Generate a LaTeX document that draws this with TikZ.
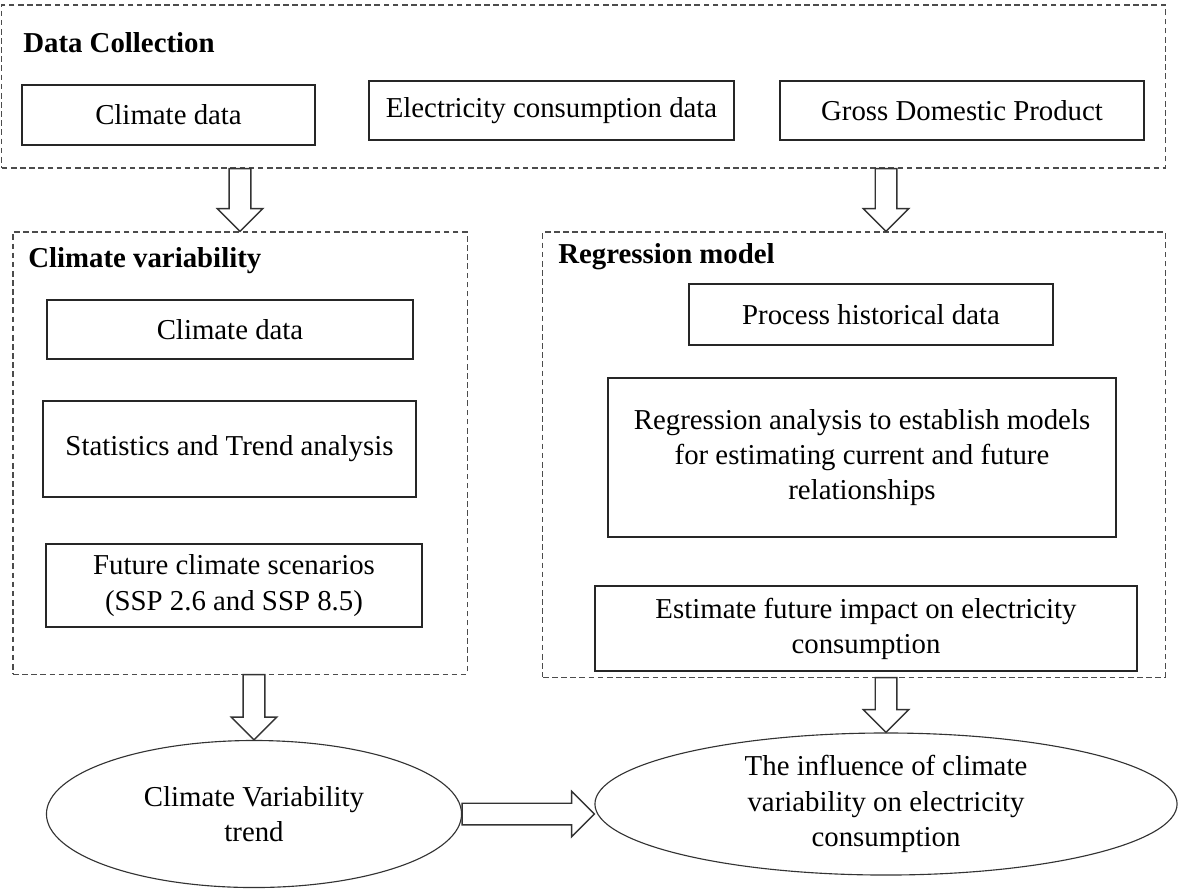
\documentclass[tikz,border=0pt]{standalone}
\usepackage{fontspec}
\setmainfont{Liberation Serif}
\usepackage{tikz}
\usetikzlibrary{positioning, calc, shapes.geometric}

% hollow block arrow from #1 to #2
\newcommand{\shafthalf}{0.27cm}
\newcommand{\headhalf}{0.57cm}
\newcommand{\headlen}{0.57cm}
\newcommand{\hollowarrow}[2]{%
  \coordinate (hb) at ($(#2)!\headlen!(#1)$);
  \draw[hollow] ($(#1)!\shafthalf!90:(#2)$) -- ($(hb)!\shafthalf!90:(#2)$)
    -- ($(hb)!\headhalf!90:(#2)$) -- (#2) -- ($(hb)!\headhalf!-90:(#2)$)
    -- ($(hb)!\shafthalf!-90:(#2)$) -- ($(#1)!\shafthalf!-90:(#2)$) -- cycle;}

\begin{document}
\begin{tikzpicture}[x=0.025cm, y=-0.025cm, font=\fontsize{20.5}{25}\selectfont,
  box/.style={draw=black!85, line width=1.1pt, align=center, inner sep=0pt},
  group/.style={draw=black!70, line width=0.8pt, dash pattern=on 4pt off 2.5pt},
  oval/.style={ellipse, draw=black!80, line width=0.8pt, align=center, inner sep=0pt},
  title/.style={font=\fontsize{20.5}{25}\selectfont\bfseries, anchor=base west, inner sep=0pt},
  hollow/.style={draw=black!80, line width=1pt, fill=white, line join=miter}]
  \useasboundingbox (0,0) rectangle (1181,890);

  % data collection
  \node[group, minimum width=29.075cm, minimum height=4.075cm] (dc) at (583.5,86.5) {};
  \node[title] (dctitle) at (23,52) {Data Collection};
  \node[box, minimum width=7.325cm, minimum height=1.5cm] (clim) at (168.5,115) {Climate data};
  \node[box, minimum width=9.125cm, minimum height=1.475cm] (elec) at (551.5,110.5) {Electricity consumption data};
  \node[box, minimum width=9.1cm, minimum height=1.475cm] (gdp) at (962,110.5) {Gross Domestic Product};

  % climate variability
  \node[group, minimum width=11.35cm, minimum height=11.05cm] (cv) at (240,453) {};
  \node[title] (cvtitle) at (28,267) {Climate variability};
  \node[box, minimum width=9.15cm, minimum height=1.475cm] (climb) at (230,329.5) {Climate data};
  \node[box, minimum width=9.325cm, minimum height=2.4cm] (stat) at (229.5,449) {Statistics and Trend analysis};
  \node[box, minimum width=9.4cm, minimum height=2.075cm] (fut) at (234,585.5) {Future climate scenarios\\(SSP 2.6 and SSP 8.5)};

  % regression model
  \node[group, minimum width=15.55cm, minimum height=11.125cm] (reg) at (854,454.5) {};
  \node[title] (regtitle) at (558,263) {Regression model};
  \node[box, minimum width=9.1cm, minimum height=1.525cm] (proc) at (871,314.5) {Process historical data};
  \node[box, minimum width=12.7cm, minimum height=3.975cm] (ana) at (862,457.5) {Regression analysis to establish models\\for estimating current and future\\relationships};
  \node[box, minimum width=13.55cm, minimum height=2.125cm] (est) at (866,628.5) {Estimate future impact on electricity\\consumption};

  % results
  \node[oval, minimum width=10.375cm, minimum height=3.675cm] (trend) at (254,814) {Climate Variability\\trend};
  \node[oval, minimum width=14.55cm, minimum height=3.55cm] (res) at (886,804) {The influence of climate\\variability on electricity\\consumption};

  % arrows
  \coordinate (a1) at (dc.south -| cv.north);
  \hollowarrow{a1}{cv.north}
  \coordinate (a2) at (dc.south -| res.north);
  \coordinate (a2e) at (reg.north -| res.north);
  \hollowarrow{a2}{a2e}
  \coordinate (a3) at (cv.south -| trend.north);
  \hollowarrow{a3}{trend.north}
  \coordinate (a4) at (reg.south -| res.north);
  \hollowarrow{a4}{res.north}
  \coordinate (a5) at (trend.east -| res.west);
  \hollowarrow{trend.east}{a5}
\end{tikzpicture}
\end{document}
